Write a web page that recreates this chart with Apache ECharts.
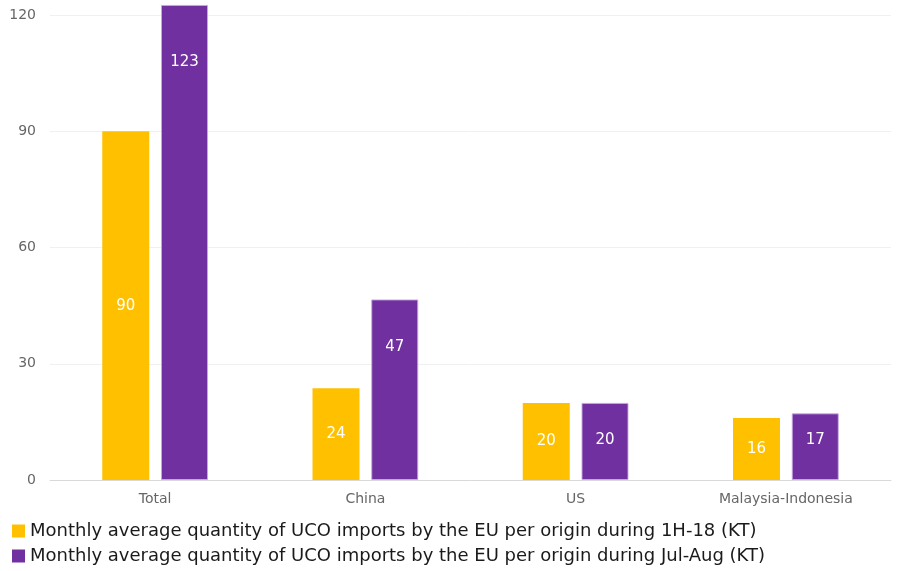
<!DOCTYPE html>
<html>
<head>
<meta charset="utf-8">
<script src="https://cdn.jsdelivr.net/npm/echarts@6/dist/echarts.min.js"></script>
<style>html,body{margin:0;padding:0;background:#fff}#c{width:899px;height:571px}</style>
</head>
<body>
<div id="c"></div>
<script>
const categories = ['Total', 'China', 'US', 'Malaysia-Indonesia'];
const seriesNames = [
  'Monthly average quantity of UCO imports by the EU per origin during 1H-18 (KT)',
  'Monthly average quantity of UCO imports by the EU per origin during Jul-Aug (KT)'
];
const values1H18 = [90, 23.7, 19.9, 16.0];
const valuesJulAug = [122.6, 46.6, 19.9, 17.2];
const yTicks = [0, 30, 60, 90, 120];

// label vertical shifts (styling only) for the second series, as seen in the reference
const julAugLabelShift = [-180, -43, -1.5, -7];

const font = 'DejaVu Sans';
const chart = echarts.init(document.getElementById('c'));
chart.setOption({
  animation: false,
  textStyle: { fontFamily: font },
  grid: { left: 50, right: 8, top: 15, bottom: 91, containLabel: false },
  legend: {
    orient: 'vertical', left: 12, top: 522, padding: 0, height: 49, width: 880,
    itemWidth: 13, itemHeight: 13, itemGap: 7,
    icon: 'rect',
    itemStyle: { borderWidth: 0 },
    textStyle: { fontFamily: font, fontSize: 18, color: '#1a1a1a', lineHeight: 18 },
    data: seriesNames
  },
  xAxis: {
    type: 'category', data: categories,
    axisLine: { lineStyle: { color: '#d9d9d9', width: 1 } },
    axisTick: { show: false },
    axisLabel: { color: '#666', fontSize: 14, margin: 12, fontFamily: font }
  },
  yAxis: {
    type: 'value', min: yTicks[0], max: yTicks[yTicks.length - 1], interval: 30,
    axisLine: { show: false }, axisTick: { show: false },
    axisLabel: { color: '#666', fontSize: 14, margin: 14, fontFamily: font },
    splitLine: { lineStyle: { color: '#f0f0f0', width: 1 } }
  },
  series: [
    {
      name: seriesNames[0], type: 'bar', clip: false,
      barWidth: 47, barGap: '25%',
      itemStyle: { color: '#FFC000', borderWidth: 0 },
      label: { show: true, position: 'inside', color: '#fff', fontSize: 15, fontFamily: font,
        formatter: p => Math.round(p.value) },
      data: values1H18
    },
    {
      name: seriesNames[1], type: 'bar', clip: false,
      barWidth: 47, barGap: '25%',
      itemStyle: { color: '#7030A0', borderColor: 'rgba(200,170,225,0.9)', borderWidth: 1 },
      label: { show: true, position: 'inside', color: '#fff', fontSize: 15, fontFamily: font,
        formatter: p => Math.round(p.value) },
      data: valuesJulAug.map((v, i) => ({ value: v, label: { offset: [0, julAugLabelShift[i]] } }))
    }
  ]
});
</script>
</body>
</html>
